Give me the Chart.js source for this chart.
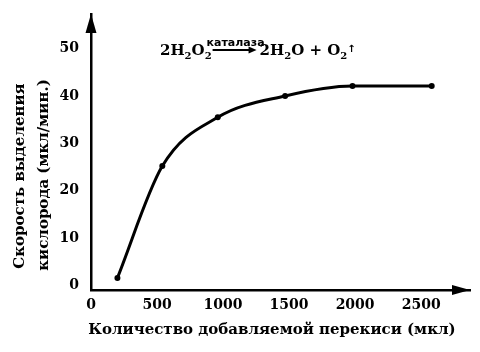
<!DOCTYPE html>
<html><head><meta charset="utf-8">
<script src="https://cdn.jsdelivr.net/npm/chart.js@4/dist/chart.umd.min.js"></script>
<style>html,body{margin:0;padding:0;background:#fff}#wrap{width:480px;height:352px}</style>
</head><body><div id="wrap"><canvas id="c" width="480" height="352"></canvas></div>
<script>
// Data
const peroxide = [200, 540, 960, 1470, 1980, 2580];      // мкл
const oxygenRate = [1.6, 25.2, 35.5, 40.0, 42.1, 42.1];  // мкл/мин.
const xTickValues = [0, 500, 1000, 1500, 2000, 2500];
const yTickValues = [0, 10, 20, 30, 40, 50];
const xTitle = 'Количество добавляемой перекиси (мкл)';
const yTitle = ['Скорость выделения', 'кислорода (мкл/мин.)'];
const catalystLabel = 'каталаза';

const SERIF = '"DejaVu Serif", serif';
const SANS = '"DejaVu Sans", sans-serif';

const decorPlugin = {
  id: 'decor',
  afterDraw(chart) {
    const ctx = chart.ctx;
    const a = chart.chartArea;
    ctx.save();
    ctx.fillStyle = '#000';
    // arrowheads
    ctx.beginPath();
    ctx.moveTo(a.left, a.top);
    ctx.lineTo(a.left - 5.5, a.top + 19);
    ctx.lineTo(a.left + 5.5, a.top + 19);
    ctx.closePath(); ctx.fill();
    ctx.beginPath();
    ctx.moveTo(a.right, a.bottom);
    ctx.lineTo(a.right - 18, a.bottom - 5);
    ctx.lineTo(a.right - 18, a.bottom + 5);
    ctx.closePath(); ctx.fill();

    // axis titles
    ctx.textAlign = 'center';
    ctx.textBaseline = 'middle';
    ctx.font = 'bold 15px ' + SERIF;
    ctx.fillText(xTitle, 272, 330);
    ctx.save(); ctx.translate(20, 176); ctx.rotate(-Math.PI / 2);
    ctx.fillText(yTitle[0], 0, 0); ctx.restore();
    ctx.save(); ctx.translate(44, 175); ctx.rotate(-Math.PI / 2);
    ctx.fillText(yTitle[1], 0, 0); ctx.restore();

    // reaction equation
    ctx.textAlign = 'left';
    ctx.textBaseline = 'alphabetic';
    const big = 'bold 15px ' + SERIF, small = 'bold 10px ' + SERIF;
    const base = 55;
    let x = 160;
    const put = (t, f, dy) => { ctx.font = f; ctx.fillText(t, x, base + dy); x += ctx.measureText(t).width; };
    put('2H', big, 0); put('2', small, 4); put('O', big, 0); put('2', small, 4);
    x += 1;
    const ax0 = x, ax1 = x + 44;
    ctx.lineWidth = 2; ctx.strokeStyle = '#000';
    ctx.beginPath(); ctx.moveTo(ax0, 50); ctx.lineTo(ax1 - 6, 50); ctx.stroke();
    ctx.beginPath(); ctx.moveTo(ax1, 50); ctx.lineTo(ax1 - 8, 46.5); ctx.lineTo(ax1 - 8, 53.5); ctx.closePath(); ctx.fill();
    ctx.font = 'bold 11px ' + SANS;
    ctx.textAlign = 'center';
    ctx.fillText(catalystLabel, (ax0 + ax1) / 2 + 1, 46);
    ctx.textAlign = 'left';
    x = ax1 + 3;
    put('2H', big, 0); put('2', small, 4); put('O + O', big, 0); put('2', small, 4);
    put('↑', 'bold 10px ' + SANS, -3);
    ctx.restore();
  }
};

new Chart(document.getElementById('c'), {
  type: 'line',
  data: {
    datasets: [{
      data: peroxide.map((v, i) => ({ x: v, y: oxygenRate[i] })),
      borderColor: '#000',
      backgroundColor: '#000',
      borderWidth: 3,
      pointRadius: 3,
      pointBackgroundColor: '#000',
      pointBorderWidth: 0,
      cubicInterpolationMode: 'monotone',
      fill: false
    }]
  },
  options: {
    responsive: false,
    animation: false,
    devicePixelRatio: 1,
    layout: { padding: { left: 0, top: 14, right: 10, bottom: 0 } },
    plugins: { legend: { display: false }, tooltip: { enabled: false } },
    scales: {
      x: {
        type: 'linear',
        min: 0, max: 2870,
        grid: { display: false, drawTicks: false },
        border: { display: true, color: '#000', width: 2.5 },
        afterBuildTicks: s => { s.ticks = xTickValues.map(v => ({ value: v })); },
        afterFit: s => { s.height = 62; s.paddingLeft = 0; s.paddingRight = 0; },
        ticks: { color: '#000', padding: 7, maxRotation: 0, callback: v => String(v), font: { family: SERIF, size: 14, weight: 'bold' } }
      },
      y: {
        min: -0.95, max: 57.3,
        grid: { display: false, drawTicks: false },
        border: { display: true, color: '#000', width: 2.5 },
        afterBuildTicks: s => { s.ticks = yTickValues.map(v => ({ value: v })); },
        afterFit: s => { s.width = 91; s.paddingTop = 0; s.paddingBottom = 0; },
        ticks: { color: '#000', padding: 12, callback: v => String(v), font: { family: SERIF, size: 14, weight: 'bold' } }
      }
    }
  },
  plugins: [decorPlugin]
});
</script>
</body></html>
